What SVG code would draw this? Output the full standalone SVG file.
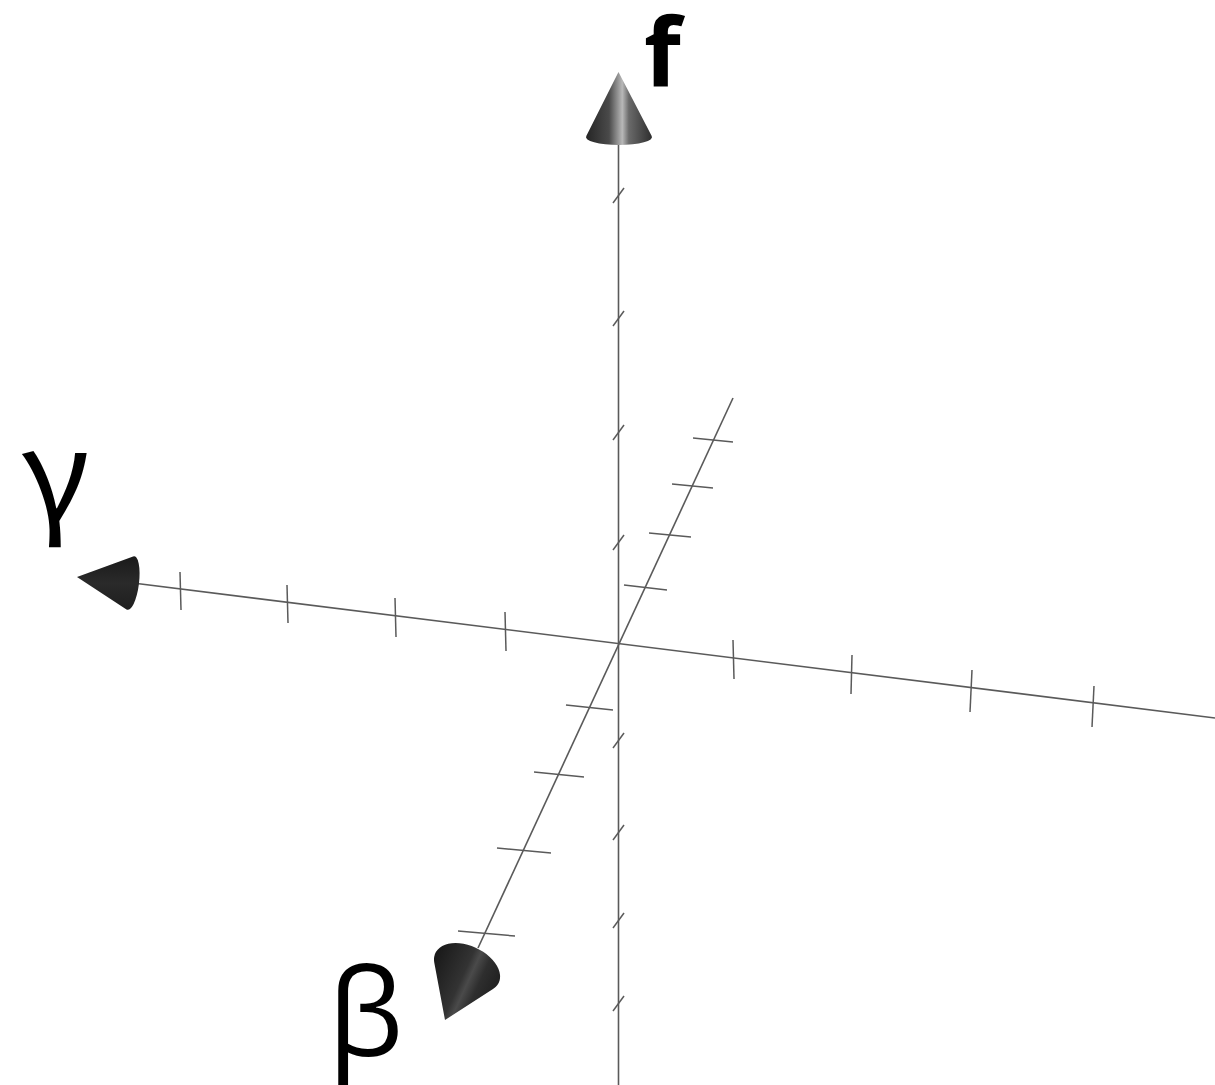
<svg xmlns="http://www.w3.org/2000/svg" width="1215" height="1085" viewBox="0 0 1215 1085">
<style>
.axis{stroke:#5a5a5a;stroke-width:1.6;fill:none}
.tick{stroke:#5a5a5a;stroke-width:1.5;fill:none}
.lbl{font-family:"Open Sans","Noto Sans",sans-serif;fill:#000}
.lblg{font-family:"Noto Sans CJK JP","Noto Sans",sans-serif;fill:#000}
</style>
<defs>
<linearGradient id="gf" gradientUnits="userSpaceOnUse" x1="586" y1="0" x2="652" y2="0">
<stop offset="0" stop-color="#252525"/><stop offset="0.35" stop-color="#4a4a4a"/><stop offset="0.55" stop-color="#b8b8b8"/><stop offset="0.65" stop-color="#6a6a6a"/><stop offset="1" stop-color="#2e2e2e"/>
</linearGradient>
<linearGradient id="gg" gradientUnits="userSpaceOnUse" x1="0" y1="556" x2="0" y2="610">
<stop offset="0" stop-color="#1a1a1a"/><stop offset="0.5" stop-color="#2a2a2a"/><stop offset="1" stop-color="#1e1e1e"/>
</linearGradient>
<linearGradient id="gb" gradientUnits="userSpaceOnUse" x1="434" y1="960" x2="500" y2="990">
<stop offset="0" stop-color="#1a1a1a"/><stop offset="0.45" stop-color="#333"/><stop offset="0.55" stop-color="#4a4a4a"/><stop offset="0.7" stop-color="#2e2e2e"/><stop offset="1" stop-color="#1e1e1e"/>
</linearGradient>
</defs>
<rect width="1215" height="1085" fill="#fff"/>
<g id="connectors">
<line id="axis-f" class="axis" x1="618.5" y1="138" x2="618.5" y2="1085"/>
<line id="axis-gamma" class="axis" x1="133" y1="583" x2="1215" y2="718"/>
<line id="axis-beta" class="axis" x1="733" y1="398" x2="478" y2="948"/>
<g id="ticks-f" class="tick">
<line x1="613" y1="203" x2="624" y2="188"/>
<line x1="613" y1="326" x2="624" y2="311"/>
<line x1="613" y1="440" x2="624" y2="425"/>
<line x1="613" y1="550" x2="624" y2="535"/>
<line x1="613" y1="748" x2="624" y2="733"/>
<line x1="613" y1="840" x2="624" y2="825"/>
<line x1="613" y1="928" x2="624" y2="913"/>
<line x1="613" y1="1011" x2="624" y2="996"/>
</g>
<g id="ticks-gamma" class="tick">
<line x1="180" y1="572" x2="181" y2="610"/>
<line x1="287" y1="585" x2="288" y2="623"/>
<line x1="395" y1="598" x2="396" y2="637"/>
<line x1="505" y1="612" x2="506" y2="651"/>
<line x1="733" y1="640" x2="734" y2="679"/>
<line x1="852" y1="655" x2="851" y2="694"/>
<line x1="972" y1="670" x2="970" y2="712"/>
<line x1="1094" y1="686" x2="1092" y2="727"/>
</g>
<g id="ticks-beta" class="tick">
<line x1="693" y1="438" x2="733" y2="442"/>
<line x1="672" y1="484" x2="713" y2="488"/>
<line x1="649" y1="533" x2="691" y2="537"/>
<line x1="624" y1="585" x2="667" y2="590"/>
<line x1="566" y1="705" x2="613" y2="710"/>
<line x1="534" y1="772" x2="584" y2="777"/>
<line x1="497" y1="848" x2="551" y2="853"/>
<line x1="458" y1="931" x2="515" y2="936"/>
</g>
</g>
<g id="cone-f">
<path d="M618.5 72 L651.7 136 A33 8 0 1 1 586.3 136 Z" fill="url(#gf)"/>
</g>
<g id="cone-gamma">
<path d="M77 577 L133.1 556.4 A8 27 7.1 1 1 126.5 609.4 Z" fill="url(#gg)"/>
</g>
<g id="cone-beta">
<path d="M445 1020 L434.3 962.7 A35 22 25 1 1 493 989.1 Z" fill="url(#gb)"/>
</g>
<g id="label-f"><text class="lbl" x="644" y="86" font-weight="bold" font-size="95">f</text></g>
<g id="label-gamma"><text class="lblg" x="21" y="522" font-size="127">γ</text></g>
<g id="label-beta"><text class="lbl" x="328" y="1056" font-size="120">β</text></g>
</svg>
